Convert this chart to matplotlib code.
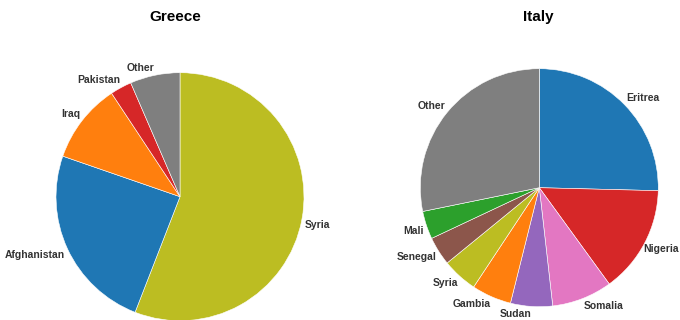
import matplotlib
matplotlib.use("Agg")
import matplotlib.pyplot as plt

plt.rcParams['font.family'] = ['Liberation Sans', 'DejaVu Sans']

greece_labels = ["Syria", "Afghanistan", "Iraq", "Pakistan", "Other"]
greece_values = [55.9, 24.4, 10.4, 2.8, 6.5]
greece_colors = ["#bcbd22", "#1f77b4", "#ff7f0e", "#d62728", "#7f7f7f"]

italy_labels = ["Eritrea", "Nigeria", "Somalia", "Sudan", "Gambia", "Syria",
                "Senegal", "Mali", "Other"]
italy_values = [25.4, 14.6, 8.2, 5.7, 5.4, 4.8, 3.9, 3.8, 28.2]
italy_colors = ["#1f77b4", "#d62728", "#e377c2", "#9467bd", "#ff7f0e",
                "#bcbd22", "#8c564b", "#2ca02c", "#7f7f7f"]

W, H = 680, 320
fig = plt.figure(figsize=(W / 100, H / 100), dpi=100)

L = 1.2


def make_ax(cx, cy, r):
    half = r * L
    ax = fig.add_axes([(cx - half) / W, (H - cy - half) / H, 2 * half / W, 2 * half / H])
    ax.set_xlim(-L, L)
    ax.set_ylim(-L, L)
    ax.set_axis_off()
    return ax


def draw(ax, values, labels, colors):
    wedges, texts = ax.pie(values, labels=labels, colors=colors, startangle=90,
                           counterclock=False, labeldistance=1.02, radius=1,
                           wedgeprops=dict(edgecolor="white", linewidth=0.4),
                           textprops=dict(fontsize=7.5, fontweight="bold", color="#333333"))
    ax.set_xlim(-L, L)
    ax.set_ylim(-L, L)
    for w in wedges:
        w.set_clip_on(False)
    for t in texts:
        x, y = t.get_position()
        t.set_va("bottom" if y > 0 else "top")
    return texts


ax1 = make_ax(180, 196.7, 124)
draw(ax1, greece_values, greece_labels, greece_colors)
ax2 = make_ax(539.3, 187.7, 119)
texts2 = draw(ax2, italy_values, italy_labels, italy_colors)
# keep "Nigeria" inside the right edge
for t in texts2:
    if t.get_text() == "Nigeria":
        x, y = t.get_position()
        t.set_position((x - 0.03, y))

fig.text(175.5 / W, 1 - 17 / H, "Greece", ha="center", va="center",
         fontsize=11, fontweight="bold", color="black")
fig.text(538 / W, 1 - 17 / H, "Italy", ha="center", va="center",
         fontsize=11, fontweight="bold", color="black")

fig.savefig("out.png", dpi=100)
